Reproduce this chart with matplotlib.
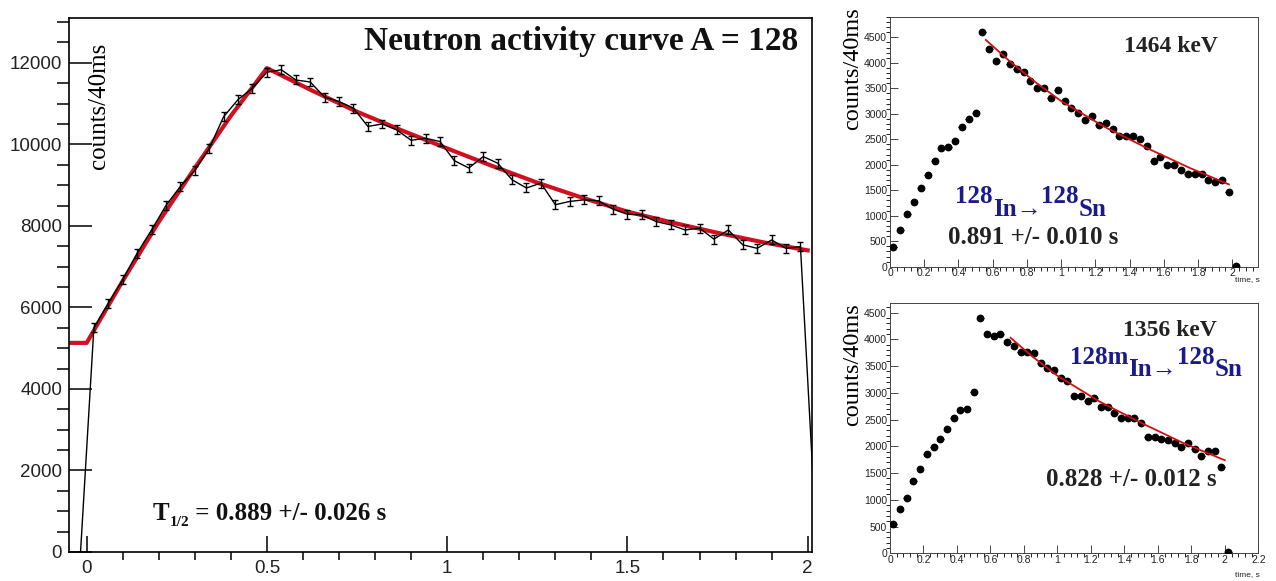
import numpy as np
import matplotlib
matplotlib.use("Agg")
import matplotlib.pyplot as plt
from matplotlib.ticker import MultipleLocator

SERIF = ["Liberation Serif", "DejaVu Serif"]
SANS = ["Liberation Sans", "DejaVu Sans"]

# ---- left panel: neutron activity, 40 ms bins ----
t_bins = np.round(np.arange(0.02, 2.0, 0.04), 2)
neutron_counts = [5500, 6100, 6680, 7330, 7900, 8500, 8970, 9360, 9900, 10680,
                  11100, 11380, 11770, 11830, 11580, 11530, 11160, 11050, 10890, 10440,
                  10500, 10355, 10100, 10150, 10070, 9600, 9420, 9700, 9540, 9130,
                  8930, 9050, 8520, 8600, 8640, 8615, 8410, 8285, 8270, 8105,
                  8025, 7900, 7945, 7675, 7900, 7535, 7450, 7655, 7450, 7490]
neutron_err = 110
# histogram line drops to zero outside the beam window
edge_t = [-0.017, 2.026]
edge_counts = [0, 0]

fit_t = [-0.05, 0.0, 0.1, 0.2, 0.3, 0.4, 0.5, 0.625, 0.75, 0.875, 1.0,
         1.125, 1.25, 1.375, 1.5, 1.625, 1.75, 1.875, 2.0]
fit_counts = [5130, 5130, 6650, 8100, 9420, 10700, 11870, 11320, 10800, 10340, 9900,
              9470, 9060, 8690, 8350, 8080, 7830, 7600, 7400]

# ---- right panels: gamma-gated activity ----
g_bins = np.round(np.arange(0.02, 2.03, 0.04), 2)
g1464 = [380, 720, 1035, 1265, 1540, 1790, 2075, 2325, 2340, 2475,
         2750, 2900, 3025, 4605, 4277, 4040, 4170, 3980, 3875, 3830,
         3650, 3505, 3505, 3310, 3460, 3255, 3110, 3015, 2870, 2950,
         2785, 2815, 2700, 2555, 2555, 2555, 2510, 2370, 2065, 2150,
         2000, 2000, 1890, 1820, 1820, 1820, 1705, 1670, 1705, 1460, 20]
fit1464_t = [0.56, 0.7, 0.85, 1.0, 1.25, 1.5, 1.75, 1.98]
fit1464 = [4450, 4030, 3620, 3250, 2750, 2330, 1940, 1615]

g1356 = [542, 829, 1040, 1358, 1570, 1857, 1981, 2131, 2324, 2536,
         2679, 2698, 3009, 4392, 4099, 4062, 4093, 3956, 3875, 3769,
         3769, 3750, 3564, 3458, 3427, 3271, 3227, 2941, 2941, 2853,
         2897, 2741, 2729, 2629, 2523, 2523, 2536, 2430, 2168, 2168,
         2131, 2118, 2068, 1981, 2056, 1944, 1819, 1913, 1913, 1607, 19]
fit1356_t = [0.72, 0.85, 1.0, 1.25, 1.5, 1.75, 2.0]
fit1356 = [4030, 3680, 3320, 2840, 2440, 2065, 1740]

W, H = 1276, 581


def fpos(x, y):
    return x / W, 1 - y / H


fig = plt.figure(figsize=(W / 100, H / 100), dpi=100)

# left panel
ax = fig.add_axes([69 / W, 1 - 552 / H, (812 - 69) / W, (552 - 18) / H])
ax.plot(fit_t, fit_counts, color="#d01020", lw=3.0, zorder=2)
ax.plot(np.r_[edge_t[0], t_bins, edge_t[1]], np.r_[edge_counts[0], neutron_counts, edge_counts[1]],
        color="black", lw=1.0, zorder=3)
ax.errorbar(t_bins, neutron_counts, yerr=neutron_err, fmt="none", ecolor="black",
            elinewidth=1.0, capsize=2.5, capthick=1.0, zorder=4)
ax.set_xlim(-0.049, 2.012)
ax.set_ylim(0, 13100)
ax.xaxis.set_major_locator(MultipleLocator(0.5))
ax.xaxis.set_minor_locator(MultipleLocator(0.1))
ax.yaxis.set_major_locator(MultipleLocator(2000))
ax.yaxis.set_minor_locator(MultipleLocator(500))
ax.set_xticks([0, 0.5, 1, 1.5, 2])
ax.set_xticklabels(["0", "0.5", "1", "1.5", "2"])
ax.tick_params(direction="in", colors="black", labelcolor="#222222", labelsize=13.5, width=1.1)
ax.tick_params(axis="y", which="major", length=16.5, pad=5)
ax.tick_params(axis="y", which="minor", length=8.5, width=1.1)
ax.tick_params(axis="x", which="major", length=11.5, pad=6)
ax.tick_params(axis="x", which="minor", length=5.5, width=1.1)
for lab in ax.get_xticklabels() + ax.get_yticklabels():
    lab.set_family(SANS)
for s in ax.spines.values():
    s.set_linewidth(1.2)

fig.text(*fpos(99, 43), "counts/40ms", rotation=90, ha="center", va="top",
         family=SERIF, fontsize=18)
fig.text(*fpos(798, 50), "Neutron activity curve A = 128", ha="right", va="baseline",
         family=SERIF, fontsize=24, fontweight="bold", color="#111111")
tt = fig.text(*fpos(153, 520), "T", ha="left", va="baseline",
              family=SERIF, fontsize=18, fontweight="bold", color="#111111")
ts = ax.annotate("1/2", xy=(1, 0), xycoords=tt, xytext=(0, -3), textcoords="offset points",
                 ha="left", va="bottom", family=SERIF, fontsize=11, fontweight="bold", color="#111111")
ax.annotate(" = 0.889 +/- 0.026 s", xy=(1, 0), xycoords=ts, xytext=(0, 3), textcoords="offset points",
            ha="left", va="bottom", family=SERIF, fontsize=18, fontweight="bold", color="#111111")


def gamma_panel(rect, counts, ft, fc, xmax, ymax, xticks):
    a = fig.add_axes(rect)
    a.errorbar(g_bins, counts, xerr=0.02, fmt="o", color="black", ms=4.6,
               elinewidth=0.8, capsize=0, zorder=3)
    a.plot(ft, fc, color="#d01010", lw=1.3, zorder=4)
    a.set_xlim(0, xmax)
    a.set_ylim(0, ymax)
    a.set_xticks(xticks)
    a.set_xticklabels(["%g" % v for v in xticks])
    a.xaxis.set_minor_locator(MultipleLocator(0.04))
    a.yaxis.set_major_locator(MultipleLocator(500))
    a.yaxis.set_minor_locator(MultipleLocator(100))
    a.tick_params(direction="in", labelsize=7.5, labelcolor="#222222", color="#444444", width=0.7)
    a.tick_params(axis="y", which="major", length=6, pad=2)
    a.tick_params(axis="y", which="minor", length=3)
    a.tick_params(axis="x", which="major", length=6, pad=1)
    a.tick_params(axis="x", which="minor", length=3)
    for lab in a.get_xticklabels() + a.get_yticklabels():
        lab.set_family(SANS)
    for s in a.spines.values():
        s.set_linewidth(0.7)
        s.set_color("#444444")
    return a


ax1 = gamma_panel([890 / W, 1 - 266.7 / H, 368 / W, (266.7 - 17) / H], g1464, fit1464_t, fit1464,
                  2.15, 4900, [0, 0.2, 0.4, 0.6, 0.8, 1, 1.2, 1.4, 1.6, 1.8, 2])
ax2 = gamma_panel([890 / W, 1 - 553.3 / H, 368.3 / W, (553.3 - 303) / H], g1356, fit1356_t, fit1356,
                  2.195, 4680, [0, 0.2, 0.4, 0.6, 0.8, 1, 1.2, 1.4, 1.6, 1.8, 2, 2.2])

for ylab_y in (7, 303):
    fig.text(*fpos(853, ylab_y), "counts/40ms", rotation=90, ha="center", va="top",
             family=SERIF, fontsize=17.5)
fig.text(*fpos(1260, 281), "time, s", ha="right", va="baseline", family=SANS, fontsize=6, color="#222222")
fig.text(*fpos(1260, 576), "time, s", ha="right", va="baseline", family=SANS, fontsize=6, color="#222222")

fig.text(*fpos(1218, 52), "1464 keV", ha="right", va="baseline", family=SERIF,
         fontsize=17, fontweight="bold", color="#222222")
fig.text(*fpos(1118, 244), "0.891 +/- 0.010 s", ha="right", va="baseline", family=SERIF,
         fontsize=18, fontweight="bold", color="#222222")
fig.text(*fpos(1217, 336), "1356 keV", ha="right", va="baseline", family=SERIF,
         fontsize=17, fontweight="bold", color="#222222")
fig.text(*fpos(1217, 486), "0.828 +/- 0.012 s", ha="right", va="baseline", family=SERIF,
         fontsize=18, fontweight="bold", color="#222222")

BLUE = "#1a1a8a"


def decay_label(x, y, parent, daughter, mass_p, mass_d):
    kw = dict(family=SERIF, fontsize=18, fontweight="bold", color=BLUE)
    p1 = fig.text(*fpos(x, y), mass_p, ha="left", va="baseline", **kw)
    p2 = fig.add_artist(plt.Annotation(parent + "\u2192", xy=(1, 0), xycoords=p1, xytext=(0, -9),
                                       textcoords="offset points", ha="left", va="bottom", **kw))
    p3 = fig.add_artist(plt.Annotation(mass_d, xy=(1, 0), xycoords=p2, xytext=(0, 9),
                                       textcoords="offset points", ha="left", va="bottom", **kw))
    fig.add_artist(plt.Annotation(daughter, xy=(1, 0), xycoords=p3, xytext=(0, -9),
                                  textcoords="offset points", ha="left", va="bottom", **kw))


decay_label(955, 203, "In", "Sn", "128", "128")
decay_label(1070, 364, "In", "Sn", "128m", "128")

fig.savefig("out.png", dpi=100)
